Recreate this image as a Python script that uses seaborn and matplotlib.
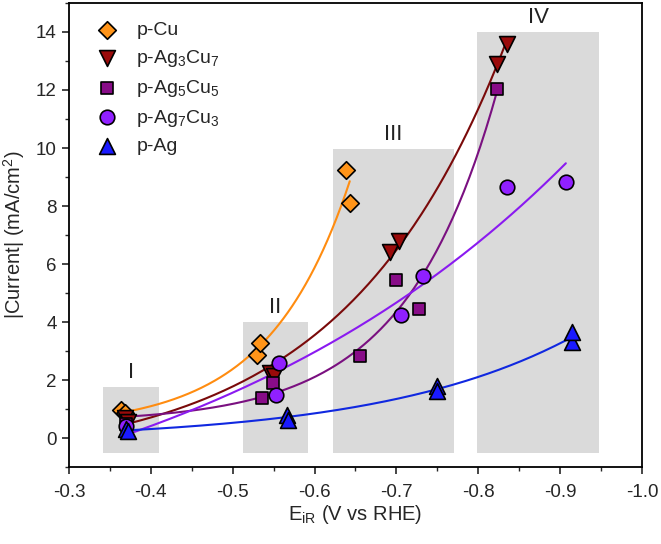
import numpy as np
import pandas as pd
import matplotlib
matplotlib.use("Agg")
import matplotlib.pyplot as plt
from matplotlib.patches import Rectangle
from matplotlib.ticker import MultipleLocator
import seaborn as sns

samples = ["p-Cu", "p-Ag3Cu7", "p-Ag5Cu5", "p-Ag7Cu3", "p-Ag"]
labels = ["p-Cu", "p-Ag$_3$Cu$_7$", "p-Ag$_5$Cu$_5$", "p-Ag$_7$Cu$_3$", "p-Ag"]

cu_E = [-0.364, -0.368, -0.530, -0.533, -0.638, -0.643]
cu_J = [0.96, 0.86, 2.86, 3.27, 9.25, 8.12]

ag3cu7_E = [-0.368, -0.372, -0.545, -0.550, -0.692, -0.703, -0.823, -0.835]
ag3cu7_J = [0.70, 0.55, 2.25, 2.15, 6.40, 6.80, 12.90, 13.60]

ag5cu5_E = [-0.370, -0.536, -0.549, -0.656, -0.700, -0.727, -0.823]
ag5cu5_J = [0.50, 1.37, 1.90, 2.82, 5.44, 4.44, 12.05]

ag7cu3_E = [-0.370, -0.553, -0.556, -0.705, -0.733, -0.835, -0.907]
ag7cu3_J = [0.42, 1.48, 2.60, 4.23, 5.60, 8.67, 8.82]

ag_E = [-0.370, -0.372, -0.566, -0.567, -0.749, -0.750, -0.914, -0.915]
ag_J = [0.30, 0.25, 0.78, 0.62, 1.78, 1.62, 3.30, 3.65]

all_E = [cu_E, ag3cu7_E, ag5cu5_E, ag7cu3_E, ag_E]
all_J = [cu_J, ag3cu7_J, ag5cu5_J, ag7cu3_J, ag_J]

# potential windows I-IV
regions = ["I", "II", "III", "IV"]
region_lo = [-0.341, -0.512, -0.623, -0.799]
region_hi = [-0.410, -0.592, -0.770, -0.948]
region_top = [1.75, 4.0, 9.95, 14.0]

marker_fill = ["#FF9419", "#9A0A0A", "#880C88", "#9020FF", "#1A1AFF"]
line_col = ["#FF8C10", "#7A0A0A", "#7A1080", "#8A1AF0", "#1028E0"]
markers = ["D", "v", "s", "o", "^"]
sizes = [80, 130, 75, 110, 130]

rows = []
for s, E, J in zip(samples, all_E, all_J):
    for e, j in zip(E, J):
        rows.append({"E": e, "J": j, "sample": s})
df = pd.DataFrame(rows)


def exp_fit(E, J):
    # J = y0 + A*exp(B*(-E)); grid search on B, linear least squares for y0, A
    x = -np.asarray(E)
    y = np.asarray(J)
    best = None
    for b in np.concatenate([np.linspace(-15, -0.2, 1500), np.linspace(0.2, 20, 2000)]):
        M = np.column_stack([np.ones_like(x), np.exp(b * x)])
        coef, *_ = np.linalg.lstsq(M, y, rcond=None)
        err = np.sum((y - M @ coef) ** 2)
        if best is None or err < best[0]:
            best = (err, coef[0], coef[1], b)
    return best[1:]


sns.set_style("ticks")
plt.rcParams["font.family"] = ["Liberation Sans", "DejaVu Sans"]
plt.rcParams["mathtext.fontset"] = "custom"
plt.rcParams["mathtext.rm"] = "Liberation Sans"
plt.rcParams["mathtext.it"] = "Liberation Sans"

fig = plt.figure(figsize=(6.61, 5.44), dpi=100)
ax = fig.add_axes([0.1044, 0.1415, 0.8668, 0.853])

for name, lo, hi, top in zip(regions, region_lo, region_hi, region_top):
    ax.add_patch(Rectangle((lo, -0.5), hi - lo, top + 0.5, facecolor="#DADADA",
                           edgecolor="none", zorder=0))
    ax.text((lo + hi) / 2, top + 0.5, name, ha="center", va="center",
            fontsize=16, color="#222222", zorder=1)

fit_rows = []
for s, E, J in zip(samples, all_E, all_J):
    y0, a, b = exp_fit(E, J)
    xs = np.linspace(-0.374, min(E), 200)
    for xv in xs:
        fit_rows.append({"E": xv, "J": y0 + a * np.exp(-b * xv), "sample": s})
fit_df = pd.DataFrame(fit_rows)

sns.lineplot(data=fit_df, x="E", y="J", hue="sample", hue_order=samples,
             palette=dict(zip(samples, line_col)), linewidth=1.5, legend=False,
             ax=ax, zorder=2)

for s, m, c, sz in zip(samples, markers, marker_fill, sizes):
    sns.scatterplot(data=df[df["sample"] == s], x="E", y="J", marker=m, color=c,
                    s=sz, edgecolor="black", linewidth=1.2, ax=ax, zorder=3,
                    label=labels[samples.index(s)])

ax.set_xlim(-0.3, -1.0)
ax.set_ylim(-1, 15)
ax.xaxis.set_major_locator(MultipleLocator(0.1))
ax.xaxis.set_minor_locator(MultipleLocator(0.05))
ax.yaxis.set_major_locator(MultipleLocator(2))
ax.yaxis.set_minor_locator(MultipleLocator(1))
ax.set_yticks(np.arange(0, 15, 2))
ax.xaxis.set_major_formatter(plt.FuncFormatter(lambda v, p: f"{v:.1f}"))
ax.tick_params(which="major", length=5, width=1.2, labelsize=13.5, direction="out", pad=7)
ax.tick_params(axis="y", which="major", pad=4)
ax.tick_params(which="minor", length=3, width=1.0, direction="out")
for sp in ax.spines.values():
    sp.set_visible(True)
    sp.set_linewidth(1.3)
    sp.set_color("black")

ax.set_xlabel("E$_{\\mathrm{iR}}$ (V vs RHE)", fontsize=14.5, labelpad=2)
ax.set_ylabel("|Current| (mA/cm$^2$)", fontsize=14.5, labelpad=6)

leg = ax.legend(loc="upper left", frameon=False, fontsize=14, handletextpad=0.5,
                labelspacing=0.45, borderaxespad=0.56, bbox_to_anchor=(0.0, 1.0))

fig.savefig("out.png", dpi=100)
